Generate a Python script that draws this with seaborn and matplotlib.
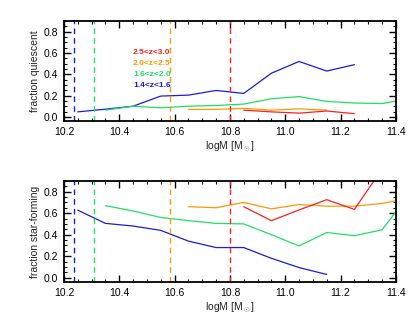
import numpy as np
import pandas as pd
import matplotlib
matplotlib.use('Agg')
import matplotlib.pyplot as plt
import seaborn as sns
from matplotlib.ticker import MultipleLocator

# redshift bins and colours
bins = ['2.5<z<3.0', '2.0<z<2.5', '1.6<z<2.0', '1.4<z<1.6']
colors = ['#ff2020', '#ff9900', '#22dd66', '#1a1ae6']

# mass completeness limits per bin
mass_lim = [10.80, 10.585, 10.31, 10.235]

# mass bin centres per redshift bin
m_red = [10.85, 10.95, 11.05, 11.15, 11.25, 11.35]
m_orange = [10.65, 10.75, 10.85, 10.95, 11.05, 11.15, 11.25, 11.35, 11.45]
m_green = [10.35, 10.45, 10.55, 10.65, 10.75, 10.85, 10.95, 11.05, 11.15, 11.25, 11.35, 11.45]
m_blue = [10.25, 10.35, 10.45, 10.55, 10.65, 10.75, 10.85, 10.95, 11.05, 11.15, 11.25]

# fraction quiescent
q_red = [0.063, 0.047, 0.035, 0.055, 0.03]
q_orange = [0.07, 0.07, 0.08, 0.063, 0.075, 0.063]
q_green = [0.063, 0.10, 0.085, 0.10, 0.107, 0.12, 0.17, 0.19, 0.145, 0.13, 0.125, 0.17]
q_blue = [0.047, 0.072, 0.10, 0.195, 0.204, 0.248, 0.22, 0.41, 0.52, 0.43, 0.49]

# fraction star-forming
sf_red = [0.66, 0.53, 0.63, 0.725, 0.635, 1.01]
sf_orange = [0.66, 0.65, 0.70, 0.64, 0.68, 0.665, 0.665, 0.69, 0.74]
sf_green = [0.67, 0.62, 0.56, 0.53, 0.505, 0.50, 0.40, 0.295, 0.42, 0.39, 0.445, 0.78]
sf_blue = [0.628, 0.505, 0.48, 0.44, 0.34, 0.28, 0.28, 0.18, 0.094, 0.03]


def frame(masses, values):
    rows = []
    for b, m, v in zip(bins, masses, values):
        for x, y in zip(m[:len(v)], v):
            rows.append({'logM': x, 'frac': y, 'zbin': b})
    return pd.DataFrame(rows)


df_q = frame([m_red, m_orange, m_green, m_blue], [q_red, q_orange, q_green, q_blue])
df_sf = frame([m_red, m_orange, m_green, m_blue], [sf_red, sf_orange, sf_green, sf_blue])

sns.set_style('ticks')
plt.rcParams['font.family'] = ['Liberation Sans', 'DejaVu Sans']
plt.rcParams['mathtext.fontset'] = 'custom'
plt.rcParams['mathtext.rm'] = 'Liberation Sans'

fig = plt.figure(figsize=(4.15, 3.23), dpi=100)
ax1 = fig.add_axes([0.154, 0.625, 0.800, 0.310])
ax2 = fig.add_axes([0.154, 0.127, 0.800, 0.313])

pal = dict(zip(bins, colors))
for ax, df, ylab in [(ax1, df_q, 'fraction quiescent'), (ax2, df_sf, 'fraction star-forming')]:
    sns.lineplot(data=df, x='logM', y='frac', hue='zbin', hue_order=bins[::-1],
                 palette=pal, ax=ax, linewidth=0.9, legend=False, sort=False)
    for lim, c in zip(mass_lim, colors):
        ax.axvline(lim, color=c, linestyle=(0, (4, 3)), linewidth=1.0)
    ax.set_xlim(10.2, 11.4)
    ax.set_ylim(-0.04, 0.9)
    ax.xaxis.set_major_locator(MultipleLocator(0.2))
    ax.xaxis.set_minor_locator(MultipleLocator(0.05))
    ax.yaxis.set_major_locator(MultipleLocator(0.2))
    ax.yaxis.set_minor_locator(MultipleLocator(0.05))
    ax.tick_params(which='both', direction='in', top=True, right=True, labelsize=7.5, colors='black')
    ax.tick_params(which='major', length=5, width=1.0, pad=4)
    ax.tick_params(which='minor', length=2.5, width=0.8)
    ax.xaxis.set_major_formatter(matplotlib.ticker.FormatStrFormatter('%.1f'))
    ax.yaxis.set_major_formatter(matplotlib.ticker.FormatStrFormatter('%.1f'))
    for s in ax.spines.values():
        s.set_linewidth(1.3)
        s.set_color('black')
    ax.set_xlabel(r'logM [M$_\odot$]', fontsize=7.5, labelpad=2)
    ax.set_ylabel(ylab, fontsize=7.5, labelpad=3)

# legend text
ypos = [0.683, 0.573, 0.467, 0.36]
for b, c, y in zip(bins, colors, ypos):
    ax1.text(0.208, y, b, color=c, fontsize=6, fontweight='bold',
             transform=ax1.transAxes, va='center', ha='left')

fig.savefig('out.png', dpi=100)
